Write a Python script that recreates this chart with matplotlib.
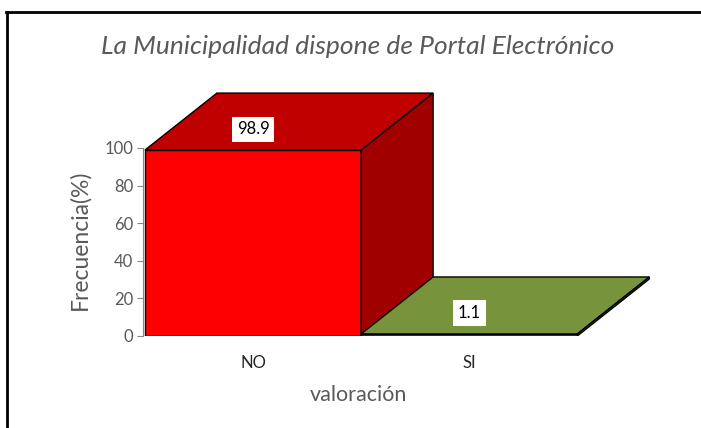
import matplotlib.pyplot as plt
from matplotlib.patches import Polygon
from matplotlib.lines import Line2D

plt.rcParams['font.family'] = ['Lato', 'DejaVu Sans']

# datos
categorias = ['NO', 'SI']
valores = [98.9, 1.1]
etiquetas = ['98.9', '1.1']
colores_frente = ['#FF0000', '#FF0000']
colores_arriba = ['#C00000', '#77933C']
colores_lado = ['#A00000', '#5E7530']

fig = plt.figure(figsize=(7.01, 4.28), dpi=100)
W, H = 701, 428
ax = fig.add_axes([143 / W, (H - 336) / H, (680 - 143) / W, (336 - 60) / H])
ax.set_xlim(-0.509, 1.975)
ax.set_ylim(0, 146.8)

# profundidad 3D (en unidades de datos)
dx, dy = 0.333, 30.3
ancho = 1.0

for i, (v, cf, ca, cl) in enumerate(zip(valores, colores_frente, colores_arriba, colores_lado)):
    x0, x1 = i - ancho / 2, i + ancho / 2
    frente = Polygon([(x0, 0), (x1, 0), (x1, v), (x0, v)], closed=True,
                     facecolor=cf, edgecolor='black', lw=1, zorder=3)
    arriba = Polygon([(x0, v), (x1, v), (x1 + dx, v + dy), (x0 + dx, v + dy)], closed=True,
                     facecolor=ca, edgecolor='black', lw=1, zorder=3)
    lado = Polygon([(x1, 0), (x1 + dx, dy), (x1 + dx, v + dy), (x1, v)], closed=True,
                   facecolor=cl, edgecolor='black', lw=1, zorder=3)
    for p in (frente, arriba, lado):
        ax.add_patch(p)
    ax.text(i, v + 11, etiquetas[i], ha='center', va='center', fontsize=12, color='black',
            bbox=dict(facecolor='white', edgecolor='none', pad=3.5), zorder=5)

ax.set_xticks(range(len(categorias)))
ax.set_xticklabels(categorias, fontsize=12, color='#262626')
ax.tick_params(axis='x', length=0, pad=14)
ax.set_yticks([0, 20, 40, 60, 80, 100])
ax.tick_params(axis='y', colors='#868686', labelcolor='#595959', labelsize=12, length=4, pad=3)
for s in ['top', 'right', 'bottom']:
    ax.spines[s].set_visible(False)
ax.spines['left'].set_bounds(0, 100)
ax.spines['left'].set_color('#868686')

ax.set_ylabel('Frecuencia(%)', fontsize=16.5, color='#595959')
ax.yaxis.set_label_coords((90 - 143) / 537, (336 - 240) / 276)
ax.set_xlabel('valoración', fontsize=15.5, color='#595959')
ax.xaxis.set_label_coords((358 - 143) / 537, -(395 - 336) / 276)
ax.xaxis.label.set_va('center')

fig.text(358 / W, 1 - 46 / H, 'La Municipalidad dispone de Portal Electrónico',
         ha='center', va='center', fontsize=19, style='italic', color='#595959')

# marco del gráfico
fig.add_artist(Line2D([6 / W, 1], [1 - 12 / H, 1 - 12 / H], transform=fig.transFigure, color='black', lw=2))
fig.add_artist(Line2D([7 / W, 7 / W], [0, 1 - 12 / H], transform=fig.transFigure, color='black', lw=2))

plt.savefig('out.png', dpi=100)
